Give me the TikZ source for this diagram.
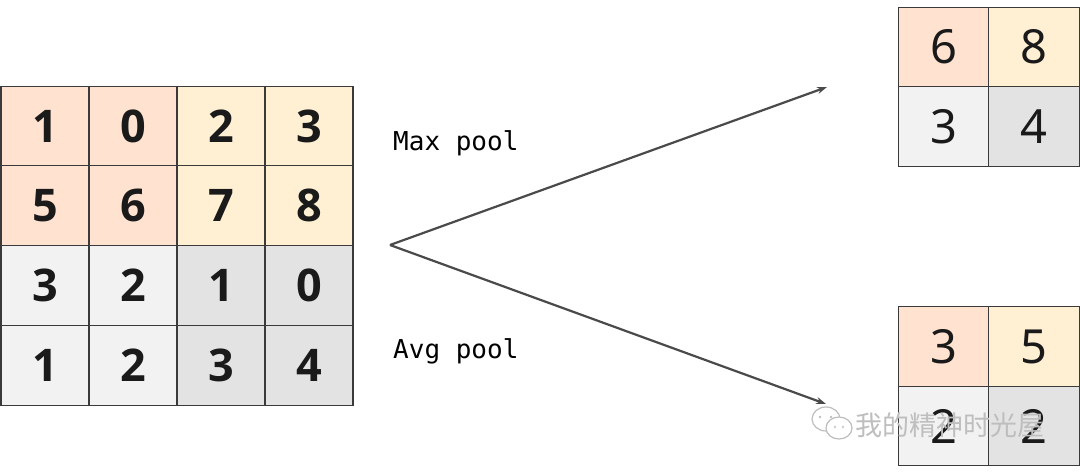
\documentclass[tikz,border=0pt]{standalone}
\usepackage{fontspec}
\setmainfont{Noto Sans}
\newfontfamily\numbold{Open Sans}[BoldFont={* Bold}]
\newfontfamily\monofont{DejaVu Sans Mono}
\newfontfamily\cjkfont{Noto Sans CJK SC}
\usetikzlibrary{arrows.meta}
\definecolor{peach}{HTML}{FFE2CF}
\definecolor{cream}{HTML}{FFEFD3}
\definecolor{lgray}{HTML}{F2F2F2}
\definecolor{mgray}{HTML}{E3E3E3}
\definecolor{edgec}{HTML}{3A3A3A}
\definecolor{arrowc}{HTML}{4A4A4A}
\definecolor{digitc}{HTML}{1A1A1A}
\definecolor{wmark}{HTML}{BEBEBE}
\tikzset{
  bigcell/.style={draw=edgec, line width=1.2pt, minimum width=88pt, minimum height=79.75pt,
    inner sep=0pt, outer sep=0pt, text=digitc, font=\numbold\bfseries\fontsize{45}{45}\selectfont},
  smallcell/.style={draw=edgec, line width=1.2pt, minimum width=90.5pt, minimum height=79.5pt,
    inner sep=0pt, outer sep=0pt, text=digitc, font=\fontsize{47}{47}\selectfont},
  poollabel/.style={anchor=base west, inner sep=0pt, font=\monofont\fontsize{26}{26}\selectfont, text=black},
  poolarrow/.style={draw=arrowc, line width=2.2pt, -{Stealth[length=10pt,width=7pt]}},
  bubble/.style={draw=wmark, fill=white, line width=1.2pt}
}
\begin{document}
\begin{tikzpicture}[x=1pt,y=-1pt]
\useasboundingbox (0,0) rectangle (1080,473);
\fill[white] (0,0) rectangle (1080,473);
% left 4x4 grid
\node[bigcell, fill=peach] (L11) at (45,126) {1};
\node[bigcell, fill=peach] (L12) at (133,126) {0};
\node[bigcell, fill=cream] (L13) at (221,126) {2};
\node[bigcell, fill=cream] (L14) at (309,126) {3};
\node[bigcell, fill=peach] (L21) at (45,205.75) {5};
\node[bigcell, fill=peach] (L22) at (133,205.75) {6};
\node[bigcell, fill=cream] (L23) at (221,205.75) {7};
\node[bigcell, fill=cream] (L24) at (309,205.75) {8};
\node[bigcell, fill=lgray] (L31) at (45,285.5) {3};
\node[bigcell, fill=lgray] (L32) at (133,285.5) {2};
\node[bigcell, fill=mgray] (L33) at (221,285.5) {1};
\node[bigcell, fill=mgray] (L34) at (309,285.5) {0};
\node[bigcell, fill=lgray] (L41) at (45,365.25) {1};
\node[bigcell, fill=lgray] (L42) at (133,365.25) {2};
\node[bigcell, fill=mgray] (L43) at (221,365.25) {3};
\node[bigcell, fill=mgray] (L44) at (309,365.25) {4};
% max pool result
\node[smallcell, fill=peach] (M11) at (943.5,47) {6};
\node[smallcell, fill=cream] (M12) at (1034,47) {8};
\node[smallcell, fill=lgray] (M21) at (943.5,126.5) {3};
\node[smallcell, fill=mgray] (M22) at (1034,126.5) {4};
% avg pool result
\node[smallcell, fill=peach] (A11) at (943.5,346.5) {3};
\node[smallcell, fill=cream] (A12) at (1034,346.5) {5};
\node[smallcell, fill=lgray] (A21) at (943.5,426) {2};
\node[smallcell, fill=mgray] (A22) at (1034,426) {2};
% labels
\node[poollabel] (maxlbl) at (393,151) {Max pool};
\node[poollabel] (avglbl) at (393,359) {Avg pool};
% arrows
\coordinate (src) at (390,245);
\coordinate (maxend) at (827,87);
\coordinate (avgend) at (826,404);
\draw[poolarrow] (src) -- (maxend);
\draw[poolarrow] (src) -- (avgend);
% watermark
\draw[bubble] (826,419) ellipse (14pt and 12pt);
\fill[wmark] (820,417) circle (1.3pt) (831,417) circle (1.3pt);
\draw[bubble] (839,428) ellipse (13pt and 11pt);
\fill[wmark] (835,427) circle (1.2pt) (843,427) circle (1.2pt);
\node[anchor=west, inner sep=0pt, text=wmark, font=\cjkfont\fontsize{27}{27}\selectfont] (wm) at (855,425) {我的精神时光屋};
\end{tikzpicture}
\end{document}
